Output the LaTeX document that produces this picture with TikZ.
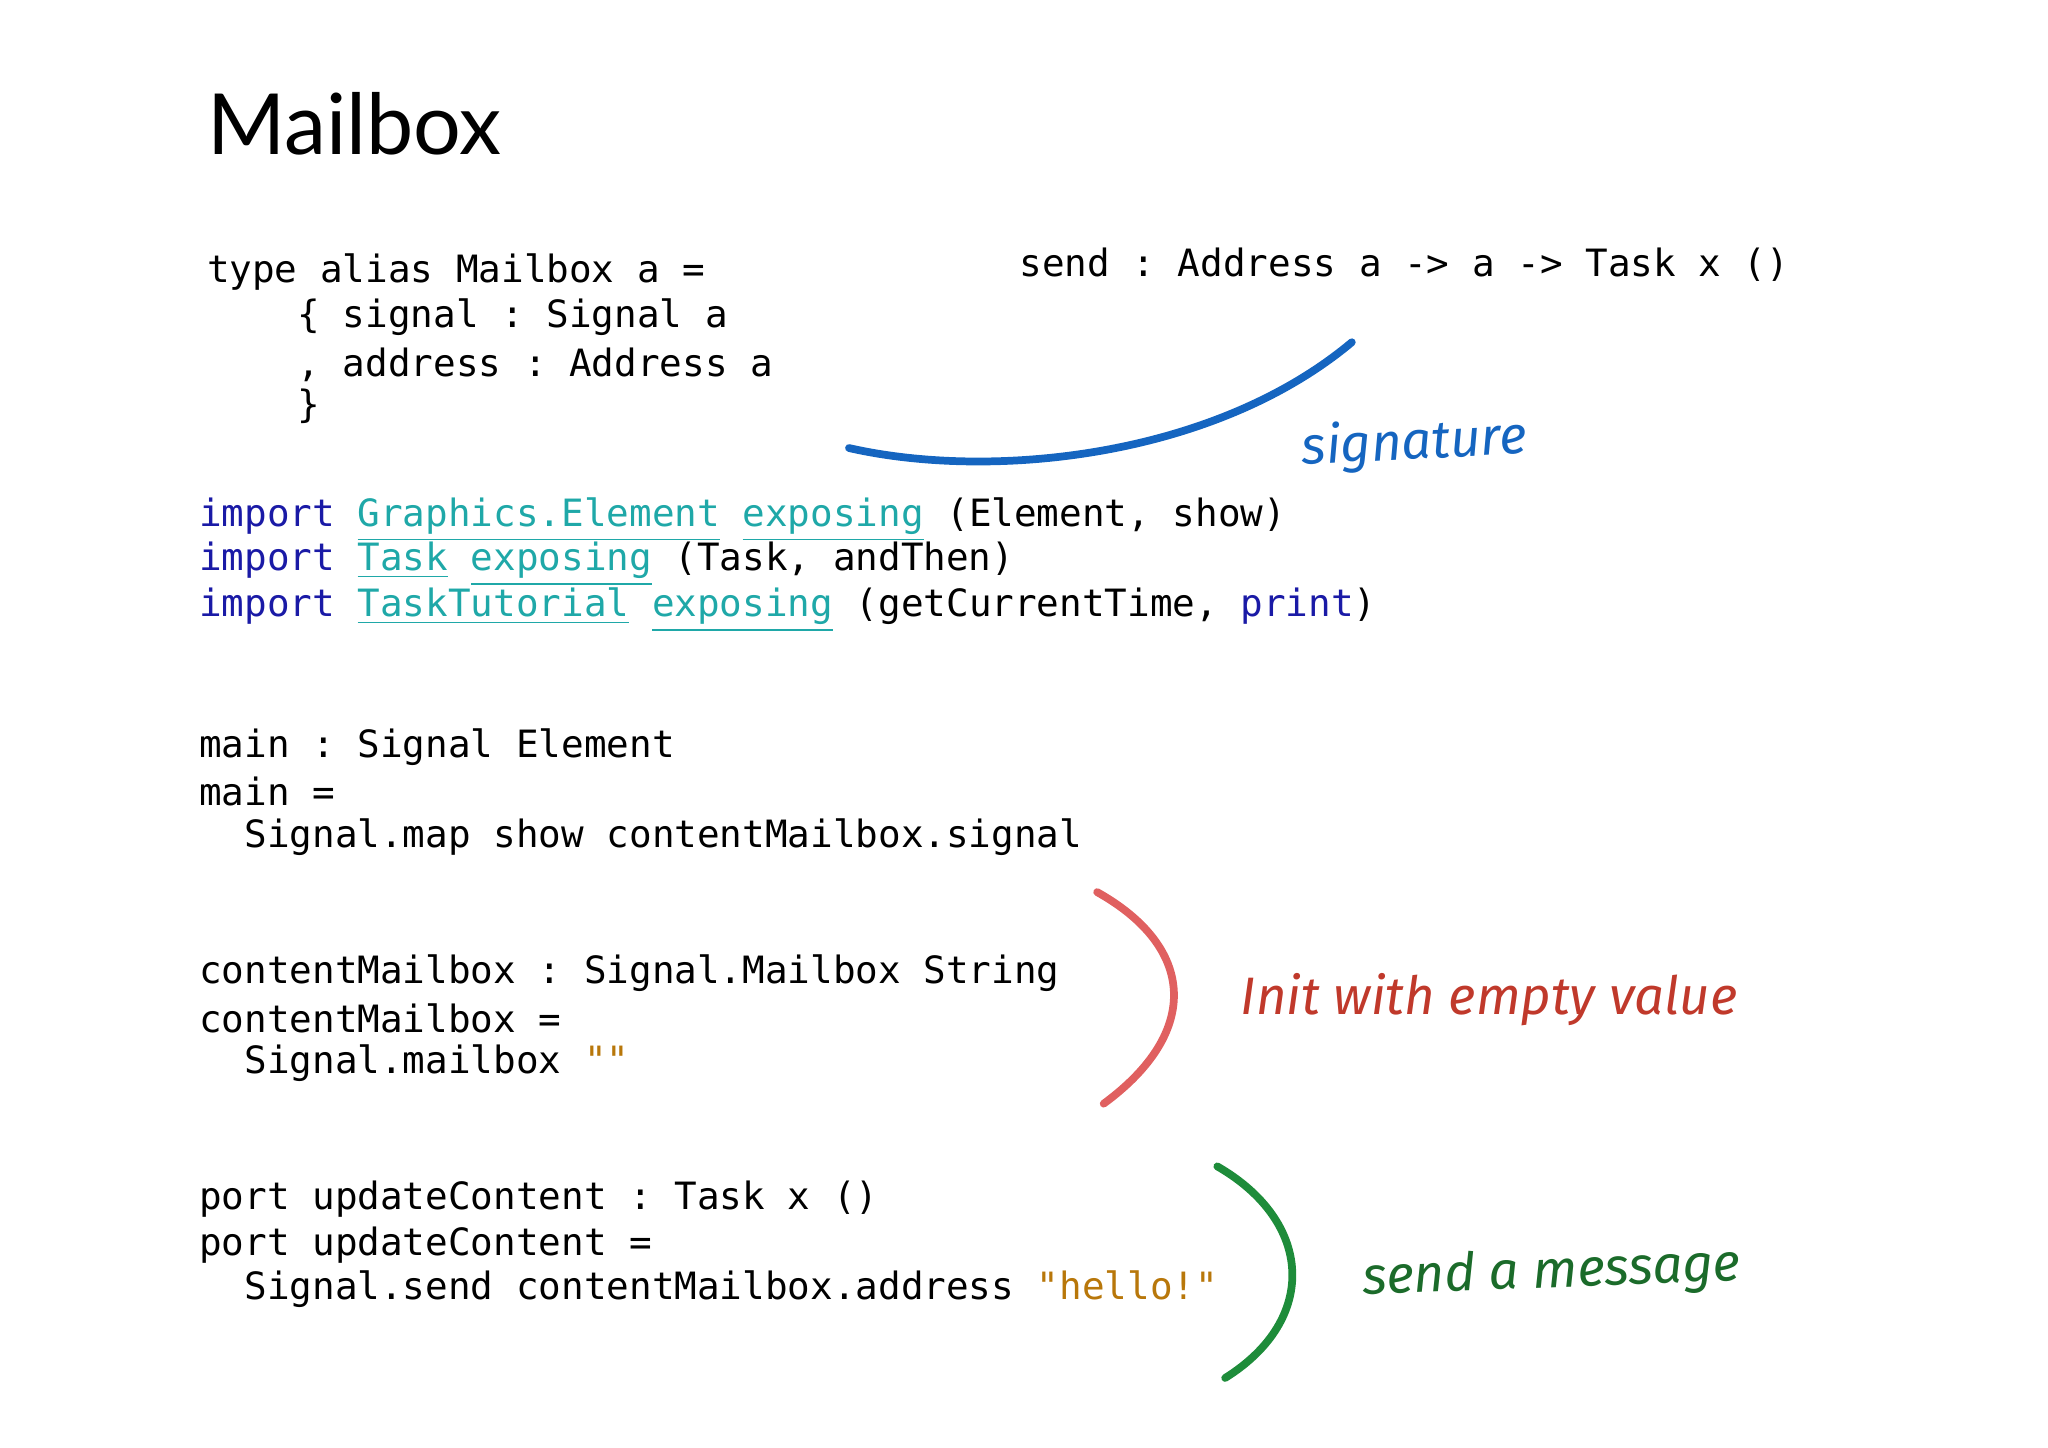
\documentclass[tikz,border=0pt]{standalone}
\usepackage{fontspec}
\setmainfont{Lato}
\setmonofont{DejaVu Sans Mono}
\newfontfamily\handfont{Fira Sans}
\definecolor{kwblue}{HTML}{1A1AA6}
\definecolor{modteal}{HTML}{1FA8A8}
\definecolor{strorange}{HTML}{B8770A}
\definecolor{sigblue}{HTML}{1565C0}
\definecolor{initred}{HTML}{C0392B}
\definecolor{mellred}{HTML}{E06060}
\definecolor{msggreen}{HTML}{1B6B2A}
\definecolor{curvegreen}{HTML}{1E8C3A}
\newcommand{\kw}[1]{\textcolor{kwblue}{#1}}
\newcommand{\md}[1]{\textcolor{modteal}{\underline{#1}}}
\newcommand{\st}[1]{\textcolor{strorange}{#1}}
\begin{document}
\begin{tikzpicture}[x=0.01306cm,y=-0.01306cm,
  code/.style={anchor=west,inner sep=0pt,font=\ttfamily\fontsize{10.7pt}{12pt}\selectfont},
  hand/.style={font=\handfont\itshape\fontsize{15pt}{17pt}\selectfont},
  curve/.style={line width=2.2pt,line cap=round}]
\useasboundingbox (0,0) rectangle (1568,1108);
\node[anchor=west,inner sep=0pt,font=\fontsize{24pt}{28pt}\selectfont] (title) at (158,95) {Mailbox};
\node[code] (t1) at (158,208) {type alias Mailbox a =};
\node[code] (t2) at (158,243) {\ \ \ \ \{ signal : Signal a};
\node[code] (t3) at (158,279) {\ \ \ \ , address : Address a};
\node[code] (t4) at (158,311) {\ \ \ \ \}};
\node[code] (send) at (780,203) {send : Address a -> a -> Task x ()};
\node[code] (i1) at (152,398) {\kw{import} \md{Graphics.Element} \md{exposing} (Element, show)};
\node[code] (i2) at (152,432) {\kw{import} \md{Task} \md{exposing} (Task, andThen)};
\node[code] (i3) at (152,467) {\kw{import} \md{TaskTutorial} \md{exposing} (getCurrentTime, \kw{print})};
\node[code] (m1) at (152,572) {main : Signal Element};
\node[code] (m2) at (152,606) {main =};
\node[code] (m3) at (152,641) {\ \ Signal.map show contentMailbox.signal};
\node[code] (c1) at (152,745) {contentMailbox : Signal.Mailbox String};
\node[code] (c2) at (152,780) {contentMailbox =};
\node[code] (c3) at (152,814) {\ \ Signal.mailbox \st{""}};
\node[code] (p1) at (152,918) {port updateContent : Task x ()};
\node[code] (p2) at (152,953) {port updateContent =};
\node[code] (p3) at (152,987) {\ \ Signal.send contentMailbox.address \st{"hello!"}};
\coordinate (b1) at (650,343); \coordinate (b2) at (1035,262);
\draw[curve,sigblue] (b1) .. controls (760,368) and (930,350) .. (b2);
\coordinate (r1) at (840,683); \coordinate (r2) at (845,845);
\draw[curve,mellred] (r1) .. controls (915,725) and (920,790) .. (r2);
\coordinate (g1) at (932,893); \coordinate (g2) at (938,1055);
\draw[curve,curvegreen] (g1) .. controls (1005,935) and (1010,1010) .. (g2);
\node[hand,sigblue,rotate=3] (sig) at (1083,340) {signature};
\node[hand,initred] (init) at (1140,765) {Init with empty value};
\node[hand,msggreen,rotate=2] (msg) at (1188,975) {send a message};
\end{tikzpicture}
\end{document}
